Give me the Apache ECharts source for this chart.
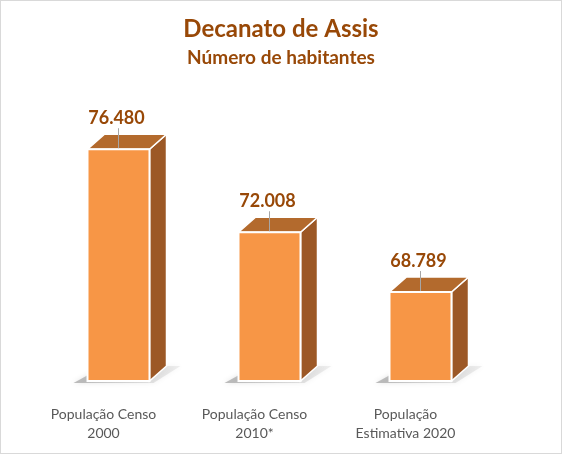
<!DOCTYPE html>
<html>
<head>
    <meta charset="utf-8">
    <title>Decanato de Assis</title>
    <script src="https://cdn.jsdelivr.net/npm/echarts@6/dist/echarts.min.js"></script>
    <style>
        html, body { margin: 0; padding: 0; background: #ffffff; }
        #chart {
            width: 562px;
            height: 454px;
            box-sizing: border-box;
            border: 1px solid #d9d9d9;
        }
    </style>
</head>
<body>
    <div id="chart"></div>
    <script type="text/javascript">
        // dados do gráfico
        const categorias = ['População Censo\n2000', 'População Censo\n2010*', 'População\nEstimativa 2020'];
        const valores = [76480, 72008, 68789];
        const rotulos = ['76.480', '72.008', '68.789'];
        const eixoMin = 64000;
        const eixoMax = 78000;

        const chart = echarts.init(document.getElementById('chart'));

        // barra 3D: frente, lateral, topo, sombra e rótulo com linha
        function renderBarra(params, api) {
            const idx = params.dataIndex;
            const topo = api.coord([api.value(0), api.value(1)]);
            const base = api.coord([api.value(0), eixoMin]);
            const cx = topo[0] + 15;
            const w = 62;
            const x0 = cx - w / 2, x1 = cx + w / 2;
            const yt = topo[1], yb = base[1];
            const dx = 17, dy = -15;

            return {
                type: 'group',
                children: [
                    {
                        type: 'polygon',
                        shape: { points: [[x0 - 14, yb + 2], [x1 + 4, yb + 2], [x1 + dx + 14, yb + dy], [x0 + dx, yb + dy]] },
                        style: {
                            fill: new echarts.graphic.LinearGradient(0, 1, 1, 0, [
                                { offset: 0, color: 'rgba(110,110,110,0.45)' },
                                { offset: 1, color: 'rgba(160,160,160,0.15)' }
                            ]),
                            shadowBlur: 5,
                            shadowColor: 'rgba(0,0,0,0.25)'
                        }
                    },
                    {
                        type: 'polygon',
                        shape: { points: [[x1, yt], [x1 + dx, yt + dy], [x1 + dx, yb + dy], [x1, yb]] },
                        style: { fill: '#9c5826', stroke: '#ffffff', lineWidth: 1.5 }
                    },
                    {
                        type: 'polygon',
                        shape: { points: [[x0, yt], [x1, yt], [x1 + dx, yt + dy], [x0 + dx, yt + dy]] },
                        style: { fill: '#b36a2d', stroke: '#ffffff', lineWidth: 1.5 }
                    },
                    {
                        type: 'rect',
                        shape: { x: x0, y: yt, width: w, height: yb - yt },
                        style: { fill: '#f79646', stroke: '#ffffff', lineWidth: 2 }
                    },
                    {
                        type: 'line',
                        shape: { x1: cx, y1: yt - 21, x2: cx, y2: yt - 1 },
                        style: { stroke: '#a6a6a6', lineWidth: 1 }
                    },
                    {
                        type: 'text',
                        x: cx - 2,
                        y: yt - 31,
                        style: {
                            text: rotulos[idx],
                            fill: '#984807',
                            font: 'bold 18px Lato',
                            align: 'center',
                            verticalAlign: 'middle'
                        }
                    }
                ]
            };
        }

        const option = {
            animation: false,
            title: {
                text: 'Decanato de Assis',
                subtext: 'Número de habitantes',
                left: 'center',
                top: 11,
                itemGap: 7,
                textStyle: { color: '#984807', fontFamily: 'Lato', fontWeight: 'bold', fontSize: 24 },
                subtextStyle: { color: '#984807', fontFamily: 'Lato', fontWeight: 'bold', fontSize: 19 }
            },
            grid: { left: 27, right: 80, top: 120, bottom: 72 },
            xAxis: {
                type: 'category',
                data: categorias,
                axisLine: { show: false },
                axisTick: { show: false },
                axisLabel: {
                    color: '#595959',
                    fontFamily: 'Lato',
                    fontSize: 14,
                    lineHeight: 19,
                    margin: 24,
                    interval: 0
                }
            },
            yAxis: {
                type: 'value',
                min: eixoMin,
                max: eixoMax,
                show: false
            },
            series: [{
                type: 'custom',
                renderItem: renderBarra,
                data: valores.map(function (v, i) { return [i, v]; })
            }]
        };
        chart.setOption(option);
    </script>
</body>
</html>
